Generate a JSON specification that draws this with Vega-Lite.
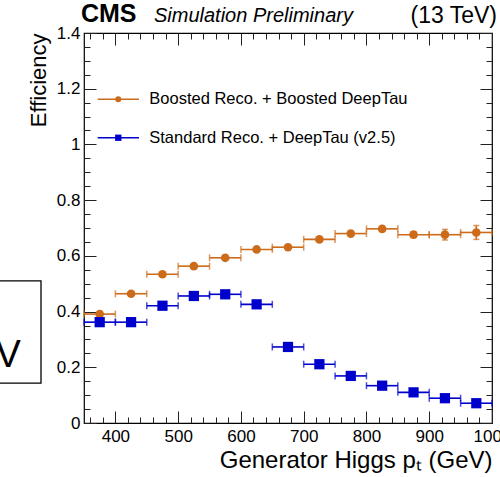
{
  "$schema": "https://vega.github.io/schema/vega-lite/v6.json",
  "width": 408,
  "height": 390,
  "autosize": {"type": "none"},
  "padding": {"left": 84, "top": 33, "right": 8, "bottom": 54},
  "background": "white",
  "data": {
    "values": [
      {"series": "Boosted", "pt": 375, "lo": 350, "hi": 400, "eff": 0.391, "elo": 0.387, "ehi": 0.395},
      {"series": "Boosted", "pt": 425, "lo": 400, "hi": 450, "eff": 0.464, "elo": 0.460, "ehi": 0.468},
      {"series": "Boosted", "pt": 475, "lo": 450, "hi": 500, "eff": 0.534, "elo": 0.530, "ehi": 0.538},
      {"series": "Boosted", "pt": 525, "lo": 500, "hi": 550, "eff": 0.563, "elo": 0.558, "ehi": 0.568},
      {"series": "Boosted", "pt": 575, "lo": 550, "hi": 600, "eff": 0.593, "elo": 0.588, "ehi": 0.598},
      {"series": "Boosted", "pt": 625, "lo": 600, "hi": 650, "eff": 0.623, "elo": 0.618, "ehi": 0.628},
      {"series": "Boosted", "pt": 675, "lo": 650, "hi": 700, "eff": 0.631, "elo": 0.625, "ehi": 0.637},
      {"series": "Boosted", "pt": 725, "lo": 700, "hi": 750, "eff": 0.659, "elo": 0.653, "ehi": 0.665},
      {"series": "Boosted", "pt": 775, "lo": 750, "hi": 800, "eff": 0.680, "elo": 0.673, "ehi": 0.687},
      {"series": "Boosted", "pt": 825, "lo": 800, "hi": 850, "eff": 0.697, "elo": 0.689, "ehi": 0.705},
      {"series": "Boosted", "pt": 875, "lo": 850, "hi": 900, "eff": 0.676, "elo": 0.666, "ehi": 0.686},
      {"series": "Boosted", "pt": 925, "lo": 900, "hi": 950, "eff": 0.676, "elo": 0.657, "ehi": 0.695},
      {"series": "Boosted", "pt": 975, "lo": 950, "hi": 1000, "eff": 0.684, "elo": 0.659, "ehi": 0.709},
      {"series": "Standard", "pt": 375, "lo": 350, "hi": 400, "eff": 0.362, "elo": 0.358, "ehi": 0.366},
      {"series": "Standard", "pt": 425, "lo": 400, "hi": 450, "eff": 0.362, "elo": 0.358, "ehi": 0.366},
      {"series": "Standard", "pt": 475, "lo": 450, "hi": 500, "eff": 0.421, "elo": 0.417, "ehi": 0.425},
      {"series": "Standard", "pt": 525, "lo": 500, "hi": 550, "eff": 0.456, "elo": 0.452, "ehi": 0.460},
      {"series": "Standard", "pt": 575, "lo": 550, "hi": 600, "eff": 0.462, "elo": 0.458, "ehi": 0.466},
      {"series": "Standard", "pt": 625, "lo": 600, "hi": 650, "eff": 0.426, "elo": 0.421, "ehi": 0.431},
      {"series": "Standard", "pt": 675, "lo": 650, "hi": 700, "eff": 0.273, "elo": 0.268, "ehi": 0.278},
      {"series": "Standard", "pt": 725, "lo": 700, "hi": 750, "eff": 0.211, "elo": 0.206, "ehi": 0.216},
      {"series": "Standard", "pt": 775, "lo": 750, "hi": 800, "eff": 0.169, "elo": 0.164, "ehi": 0.174},
      {"series": "Standard", "pt": 825, "lo": 800, "hi": 850, "eff": 0.134, "elo": 0.129, "ehi": 0.139},
      {"series": "Standard", "pt": 875, "lo": 850, "hi": 900, "eff": 0.110, "elo": 0.105, "ehi": 0.115},
      {"series": "Standard", "pt": 925, "lo": 900, "hi": 950, "eff": 0.089, "elo": 0.084, "ehi": 0.094},
      {"series": "Standard", "pt": 975, "lo": 950, "hi": 1000, "eff": 0.071, "elo": 0.066, "ehi": 0.076}
    ]
  },
  "resolve": {"axis": {"x": "independent", "y": "independent"}},
  "config": {
    "view": {"stroke": "black", "strokeWidth": 1.2},
    "axis": {
      "domain": false,
      "grid": false,
      "tickColor": "#222222",
      "tickWidth": 1,
      "labelFont": "Liberation Sans",
      "titleFont": "Liberation Sans",
      "labelColor": "black",
      "titleColor": "black",
      "titleFontWeight": "normal",
      "labelFlush": false,
      "labelOverlap": false,
      "labelBound": false
    },
    "text": {"font": "Liberation Sans", "color": "black"}
  },
  "layer": [
    {
      "mark": {"type": "rule", "strokeWidth": 1.6},
      "encoding": {
        "x": {"field": "lo", "type": "quantitative", "scale": {"domain": [350, 1000], "nice": false, "zero": false},
          "axis": {"orient": "bottom", "values": [400, 500, 600, 700, 800, 900, 1000], "format": "d", "tickSize": -12, "labelPadding": 17, "labelFontSize": 17,
            "title": "Generator Higgs pₜ (GeV)", "titleFontSize": 24, "titleAnchor": "end", "titlePadding": 4}},
        "x2": {"field": "hi"},
        "y": {"field": "eff", "type": "quantitative", "scale": {"domain": [0, 1.4], "nice": false, "zero": false},
          "axis": {"orient": "left", "values": [0, 0.2, 0.4, 0.6, 0.8, 1, 1.2, 1.4], "format": "~g", "tickSize": -12, "labelPadding": 16, "labelFontSize": 17,
            "title": "Efficiency", "titleFontSize": 22, "titleAnchor": "end", "titlePadding": 6}},
        "color": {"field": "series", "type": "nominal", "scale": {"domain": ["Boosted", "Standard"], "range": ["#cc6b1a", "#0000cc"]}, "legend": null}
      }
    },
    {
      "transform": [{"fold": ["lo", "hi"], "as": ["edge", "xe"]}],
      "mark": {"type": "tick", "orient": "vertical", "size": 7, "thickness": 1.5},
      "encoding": {
        "x": {"field": "xe", "type": "quantitative", "scale": {"domain": [350, 1000], "nice": false, "zero": false},
          "axis": {"orient": "bottom", "values": [360, 380, 420, 440, 460, 480, 520, 540, 560, 580, 620, 640, 660, 680, 720, 740, 760, 780, 820, 840, 860, 880, 920, 940, 960, 980], "tickSize": -6, "labels": false, "title": null}},
        "y": {"field": "eff", "type": "quantitative", "scale": {"domain": [0, 1.4], "nice": false, "zero": false},
          "axis": {"orient": "left", "values": [0.05, 0.1, 0.15, 0.25, 0.3, 0.35, 0.45, 0.5, 0.55, 0.65, 0.7, 0.75, 0.85, 0.9, 0.95, 1.05, 1.1, 1.15, 1.25, 1.3, 1.35], "tickSize": -6, "labels": false, "title": null}},
        "color": {"field": "series", "type": "nominal", "legend": null}
      }
    },
    {
      "transform": [{"filter": "datum.series === 'Boosted'"}],
      "mark": {"type": "rule", "strokeWidth": 1.6},
      "encoding": {
        "x": {"field": "pt", "type": "quantitative", "scale": {"domain": [350, 1000], "nice": false, "zero": false},
          "axis": {"orient": "top", "values": [400, 500, 600, 700, 800, 900, 1000], "tickSize": -12, "labels": false, "title": null}},
        "y": {"field": "elo", "type": "quantitative", "scale": {"domain": [0, 1.4], "nice": false, "zero": false},
          "axis": {"orient": "right", "values": [0, 0.2, 0.4, 0.6, 0.8, 1, 1.2, 1.4], "tickSize": -12, "labels": false, "title": null}},
        "y2": {"field": "ehi"},
        "color": {"field": "series", "type": "nominal", "legend": null}
      }
    },
    {
      "transform": [{"filter": "datum.series === 'Boosted'"}, {"fold": ["elo", "ehi"], "as": ["edge", "ye"]}],
      "mark": {"type": "tick", "orient": "horizontal", "size": 6, "thickness": 1.5},
      "encoding": {
        "x": {"field": "pt", "type": "quantitative", "scale": {"domain": [350, 1000], "nice": false, "zero": false},
          "axis": {"orient": "top", "values": [360, 380, 420, 440, 460, 480, 520, 540, 560, 580, 620, 640, 660, 680, 720, 740, 760, 780, 820, 840, 860, 880, 920, 940, 960, 980], "tickSize": -6, "labels": false, "title": null}},
        "y": {"field": "ye", "type": "quantitative", "scale": {"domain": [0, 1.4], "nice": false, "zero": false},
          "axis": {"orient": "right", "values": [0.05, 0.1, 0.15, 0.25, 0.3, 0.35, 0.45, 0.5, 0.55, 0.65, 0.7, 0.75, 0.85, 0.9, 0.95, 1.05, 1.1, 1.15, 1.25, 1.3, 1.35], "tickSize": -6, "labels": false, "title": null}},
        "color": {"field": "series", "type": "nominal", "legend": null}
      }
    },
    {
      "mark": {"type": "point", "filled": true, "opacity": 1},
      "encoding": {
        "x": {"field": "pt", "type": "quantitative", "axis": null},
        "y": {"field": "eff", "type": "quantitative", "axis": null},
        "color": {"field": "series", "type": "nominal", "legend": null},
        "shape": {"field": "series", "type": "nominal", "scale": {"domain": ["Boosted", "Standard"], "range": ["circle", "square"]}, "legend": null},
        "size": {"field": "series", "type": "nominal", "scale": {"domain": ["Boosted", "Standard"], "range": [75, 105]}, "legend": null}
      }
    },
    {
      "data": {"values": [{}]},
      "mark": {"type": "rule", "strokeWidth": 1.6, "color": "#cc6b1a"},
      "encoding": {"x": {"datum": 371.8, "type": "quantitative", "axis": null}, "x2": {"datum": 437.6}, "y": {"datum": 1.162, "type": "quantitative", "axis": null}}
    },
    {
      "data": {"values": [{}]},
      "mark": {"type": "point", "shape": "circle", "filled": true, "opacity": 1, "size": 36, "color": "#cc6b1a"},
      "encoding": {"x": {"datum": 404.6, "type": "quantitative", "axis": null}, "y": {"datum": 1.162, "type": "quantitative", "axis": null}}
    },
    {
      "data": {"values": [{}]},
      "mark": {"type": "text", "text": "Boosted Reco. + Boosted DeepTau", "align": "left", "baseline": "middle", "fontSize": 16.5},
      "encoding": {"x": {"datum": 454, "type": "quantitative", "axis": null}, "y": {"datum": 1.162, "type": "quantitative", "axis": null}}
    },
    {
      "data": {"values": [{}]},
      "mark": {"type": "rule", "strokeWidth": 1.6, "color": "#0000cc"},
      "encoding": {"x": {"datum": 371.8, "type": "quantitative", "axis": null}, "x2": {"datum": 437.6}, "y": {"datum": 1.024, "type": "quantitative", "axis": null}}
    },
    {
      "data": {"values": [{}]},
      "mark": {"type": "point", "shape": "square", "filled": true, "opacity": 1, "size": 40, "color": "#0000cc"},
      "encoding": {"x": {"datum": 404.6, "type": "quantitative", "axis": null}, "y": {"datum": 1.024, "type": "quantitative", "axis": null}}
    },
    {
      "data": {"values": [{}]},
      "mark": {"type": "text", "text": "Standard Reco. + DeepTau (v2.5)", "align": "left", "baseline": "middle", "fontSize": 16.5},
      "encoding": {"x": {"datum": 454, "type": "quantitative", "axis": null}, "y": {"datum": 1.024, "type": "quantitative", "axis": null}}
    },
    {
      "data": {"values": [{}]},
      "mark": {"type": "text", "text": "CMS", "align": "left", "baseline": "alphabetic", "fontSize": 25, "fontWeight": "bold"},
      "encoding": {"x": {"datum": 345.2, "type": "quantitative", "axis": null}, "y": {"datum": 1.440, "type": "quantitative", "axis": null}}
    },
    {
      "data": {"values": [{}]},
      "mark": {"type": "text", "text": "Simulation Preliminary", "align": "left", "baseline": "alphabetic", "fontSize": 20, "fontStyle": "italic"},
      "encoding": {"x": {"datum": 461.5, "type": "quantitative", "axis": null}, "y": {"datum": 1.440, "type": "quantitative", "axis": null}}
    },
    {
      "data": {"values": [{}]},
      "mark": {"type": "text", "text": "(13 TeV)", "align": "right", "baseline": "alphabetic", "fontSize": 23},
      "encoding": {"x": {"datum": 1008, "type": "quantitative", "axis": null}, "y": {"datum": 1.436, "type": "quantitative", "axis": null}}
    },
    {
      "data": {"values": [{}]},
      "mark": {"type": "rect", "fill": null, "stroke": "black", "strokeWidth": 1.3},
      "encoding": {"x": {"datum": 208, "type": "quantitative", "axis": null}, "x2": {"datum": 281.5}, "y": {"datum": 0.51, "type": "quantitative", "axis": null}, "y2": {"datum": 0.143}}
    },
    {
      "data": {"values": [{}]},
      "mark": {"type": "text", "text": "V", "align": "right", "baseline": "alphabetic", "fontSize": 38},
      "encoding": {"x": {"datum": 249.6, "type": "quantitative", "axis": null}, "y": {"datum": 0.201, "type": "quantitative", "axis": null}}
    }
  ]
}
